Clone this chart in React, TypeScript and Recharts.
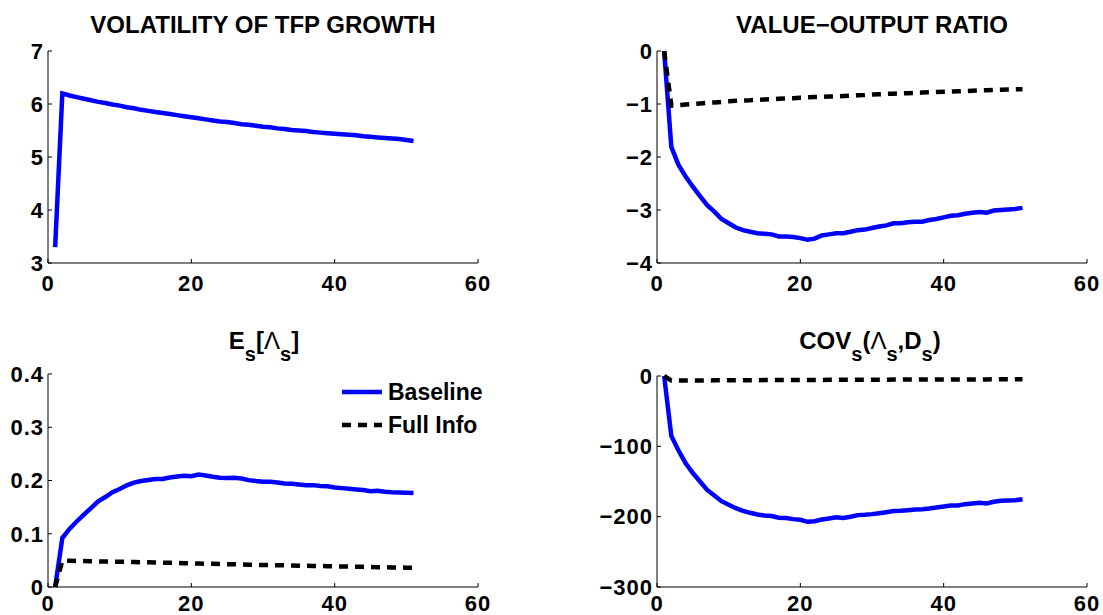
import { LineChart, Line, XAxis, YAxis, Legend } from "recharts";

const FONT = "'Liberation Sans', Arial, Helvetica, sans-serif";
const BLUE = "#0000ff";
const BLACK = "#000000";
const DASH = "9 7";

const periods = [
  1, 2, 3, 4, 5, 6, 7, 8, 9, 10, 11, 12, 13, 14, 15, 16, 17, 18, 19, 20, 21, 22, 23, 24, 25,
  26, 27, 28, 29, 30, 31, 32, 33, 34, 35, 36, 37, 38, 39, 40, 41, 42, 43, 44, 45, 46, 47, 48,
  49, 50, 51,
];

const xTicks = [0, 20, 40, 60];

// volatility of TFP growth (baseline only)
const volBaseline = [
  3.3, 6.2, 6.16, 6.13, 6.1, 6.07, 6.04, 6.02, 5.99, 5.97, 5.94, 5.92, 5.89, 5.87, 5.85, 5.83,
  5.81, 5.79, 5.77, 5.75, 5.73, 5.71, 5.69, 5.67, 5.66, 5.64, 5.62, 5.61, 5.59, 5.57, 5.56, 5.54,
  5.53, 5.51, 5.5, 5.49, 5.47, 5.46, 5.45, 5.44, 5.43, 5.42, 5.41, 5.39, 5.38, 5.37, 5.36, 5.35,
  5.34, 5.32, 5.3,
];
const volTicks = [3, 4, 5, 6, 7];

// value-output ratio
const voBaseline = [
  0, -1.81, -2.15, -2.37, -2.56, -2.74, -2.91, -3.03, -3.17, -3.25, -3.33, -3.38, -3.41, -3.44,
  -3.45, -3.46, -3.5, -3.5, -3.51, -3.53, -3.56, -3.54, -3.48, -3.46, -3.44, -3.44, -3.41, -3.38,
  -3.37, -3.34, -3.31, -3.29, -3.25, -3.25, -3.23, -3.22, -3.22, -3.19, -3.17, -3.14, -3.11,
  -3.1, -3.07, -3.05, -3.04, -3.05, -3.01, -3.0, -2.99, -2.98, -2.96,
];
const voFullInfo = [
  0, -1.03, -1.02, -1.01, -1.0, -0.99, -0.98, -0.97, -0.96, -0.95, -0.94, -0.935, -0.93, -0.92,
  -0.915, -0.91, -0.9, -0.895, -0.89, -0.88, -0.875, -0.87, -0.865, -0.86, -0.855, -0.85, -0.845,
  -0.835, -0.83, -0.82, -0.815, -0.81, -0.805, -0.8, -0.795, -0.79, -0.785, -0.78, -0.775, -0.77,
  -0.765, -0.76, -0.755, -0.75, -0.745, -0.74, -0.735, -0.73, -0.727, -0.723, -0.72,
];
const voTicks = [-4, -3, -2, -1, 0];

// E_s[Lambda_s]
const eBaseline = [
  0, 0.092, 0.109, 0.123, 0.136, 0.148, 0.161, 0.169, 0.178, 0.184, 0.191, 0.196, 0.199, 0.201,
  0.2027, 0.203, 0.2057, 0.2075, 0.209, 0.208, 0.2113, 0.2095, 0.207, 0.205, 0.2045, 0.205,
  0.2038, 0.2007, 0.199, 0.1976, 0.1976, 0.1963, 0.1945, 0.194, 0.1926, 0.191, 0.1913, 0.1895,
  0.189, 0.187, 0.1857, 0.1845, 0.1832, 0.182, 0.18, 0.1807, 0.1788, 0.178, 0.1776, 0.177,
  0.1763,
];
const eFullInfo = [
  0, 0.0494, 0.0492, 0.049, 0.0487, 0.0484, 0.0481, 0.0479, 0.0477, 0.0475, 0.0472, 0.0469,
  0.0466, 0.0463, 0.046, 0.0457, 0.0454, 0.0451, 0.0447, 0.0444, 0.0441, 0.0438, 0.0435, 0.0432,
  0.0429, 0.0426, 0.0423, 0.042, 0.0417, 0.0413, 0.0411, 0.0408, 0.0406, 0.0403, 0.0401, 0.0398,
  0.0396, 0.0393, 0.0391, 0.0388, 0.0386, 0.0383, 0.0381, 0.0378, 0.0376, 0.0373, 0.0371, 0.0368,
  0.0366, 0.0363, 0.0361,
];
const eTicks = [0, 0.1, 0.2, 0.3, 0.4];

// COV_s(Lambda_s, D_s)
const covBaseline = [
  0, -85.2, -106, -124, -138, -150, -162, -170, -178, -183, -188, -191.7, -194.5, -196.9, -198.3,
  -199, -201.6, -202, -203.5, -204.5, -207.3, -206.4, -204, -202.6, -201, -202, -200.2, -197.8,
  -197.3, -196.4, -195, -193.6, -192.1, -191.7, -190.8, -189.8, -189.3, -188.4, -187, -185.5,
  -184.1, -184.1, -182.2, -181.2, -180.3, -181.2, -178.9, -177.5, -177, -176.6, -175.1,
];
const covFullInfo = [
  0, -6.5, -6.45, -6.4, -6.35, -6.3, -6.25, -6.2, -6.15, -6.1, -6.05, -6.0, -5.95, -5.9, -5.85,
  -5.8, -5.76, -5.72, -5.68, -5.64, -5.6, -5.56, -5.52, -5.48, -5.44, -5.4, -5.36, -5.32, -5.28,
  -5.24, -5.2, -5.17, -5.14, -5.11, -5.08, -5.05, -5.02, -4.99, -4.96, -4.93, -4.9, -4.88, -4.86,
  -4.84, -4.82, -4.8, -4.78, -4.76, -4.74, -4.72, -4.7,
];
const covTicks = [-300, -200, -100, 0];

const tickStyle = {
  fill: BLACK,
  fontSize: 22,
  fontWeight: "bold",
  fontFamily: FONT,
  letterSpacing: 1,
};
const minus = (v: number) => String(v).replace("-", "\u2212");

function build(base: number[], full?: number[]) {
  return periods.map((t, i) => ({ t, base: base[i], full: full ? full[i] : undefined }));
}

function LegendBox({ payload }: any) {
  const items = payload || [];
  return (
    <svg width={170} height={64} style={{ overflow: "visible" }}>
      {items.map((entry: any, i: number) => {
        const y = 10 + i * 33;
        const dash = entry.payload?.strokeDasharray;
        return (
          <g key={entry.value}>
            <line x1={0} x2={40} y1={y} y2={y} stroke={entry.color} strokeWidth={4.5} strokeDasharray={dash} />
            <text x={46} y={y + 8} fontFamily={FONT} fontSize={23} fontWeight="bold" fill={BLACK}>
              {entry.value}
            </text>
          </g>
        );
      })}
    </svg>
  );
}

type PanelProps = {
  left: number;
  top: number;
  width: number;
  height: number;
  yWidth: number;
  marginTop: number;
  marginRight: number;
  xHeight: number;
  xMargin: number;
  data: any[];
  yDomain: [number, number];
  yTicks: number[];
  hasFull: boolean;
  legend?: boolean;
};

function Panel(p: PanelProps) {
  return (
    <div style={{ position: "absolute", left: p.left, top: p.top }}>
      <LineChart
        width={p.width}
        height={p.height}
        data={p.data}
        margin={{ top: p.marginTop, right: p.marginRight, left: 0, bottom: 0 }}
      >
        <XAxis
          dataKey="t"
          type="number"
          domain={[0, 60]}
          ticks={xTicks}
          interval={0}
          height={p.xHeight}
          stroke={BLACK}
          tickSize={-4}
          tickMargin={p.xMargin}
          tick={tickStyle}
        />
        <YAxis
          type="number"
          domain={p.yDomain}
          ticks={p.yTicks}
          interval={0}
          width={p.yWidth}
          stroke={BLACK}
          tickSize={-4}
          tickMargin={8}
          tick={tickStyle}
          tickFormatter={minus}
        />
        <Line
          dataKey="base"
          name="Baseline"
          type="linear"
          stroke={BLUE}
          strokeWidth={4.5}
          dot={false}
          activeDot={false}
          isAnimationActive={false}
        />
        {p.hasFull && (
          <Line
            dataKey="full"
            name="Full Info"
            type="linear"
            stroke={BLACK}
            strokeWidth={4.5}
            strokeDasharray={DASH}
            dot={false}
            activeDot={false}
            isAnimationActive={false}
          />
        )}
        {p.legend && (
          <Legend
            layout="vertical"
            align="center"
            verticalAlign="middle"
            content={LegendBox}
            wrapperStyle={{ left: 342, top: 75, width: 170, height: 64 }}
          />
        )}
      </LineChart>
    </div>
  );
}

export default function App() {
  const titleStyle = { fontFamily: FONT, fontWeight: "bold" as const, fill: BLACK };
  return (
    <div
      style={{
        position: "absolute",
        left: 0,
        top: 0,
        width: 1103,
        height: 615,
        overflow: "hidden",
        background: "#fff",
      }}
    >
      <Panel
        left={0}
        top={0}
        width={551}
        height={307}
        yWidth={48}
        marginTop={51}
        marginRight={73}
        xHeight={44}
        xMargin={16}
        data={build(volBaseline)}
        yDomain={[3, 7]}
        yTicks={volTicks}
        hasFull={false}
      />
      <Panel
        left={560}
        top={0}
        width={543}
        height={307}
        yWidth={97}
        marginTop={51}
        marginRight={16}
        xHeight={44}
        xMargin={16}
        data={build(voBaseline, voFullInfo)}
        yDomain={[-4, 0]}
        yTicks={voTicks}
        hasFull
      />
      <Panel
        left={0}
        top={307}
        width={551}
        height={308}
        yWidth={48}
        marginTop={67}
        marginRight={73}
        xHeight={28}
        xMargin={12}
        data={build(eBaseline, eFullInfo)}
        yDomain={[0, 0.4]}
        yTicks={eTicks}
        hasFull
        legend
      />
      <Panel
        left={560}
        top={307}
        width={543}
        height={308}
        yWidth={97}
        marginTop={69}
        marginRight={16}
        xHeight={28}
        xMargin={12}
        data={build(covBaseline, covFullInfo)}
        yDomain={[-300, 0]}
        yTicks={covTicks}
        hasFull
      />
      <svg
        width={1103}
        height={615}
        style={{ position: "absolute", left: 0, top: 0, pointerEvents: "none" }}
      >
        <text x={263} y={33} textAnchor="middle" fontSize={24} {...titleStyle}>
          VOLATILITY OF TFP GROWTH
        </text>
        <text x={872} y={33} textAnchor="middle" fontSize={24} {...titleStyle}>
          VALUE{"\u2212"}OUTPUT RATIO
        </text>
        <text x={264} y={349} textAnchor="middle" fontSize={24} {...titleStyle}>
          E
          <tspan dy={12} fontSize={20}>s</tspan>
          <tspan dy={-12}>[</tspan>
          <tspan fontWeight="normal">{"\u039B"}</tspan>
          <tspan dy={12} fontSize={20}>s</tspan>
          <tspan dy={-12}>]</tspan>
        </text>
        <text x={870} y={349} textAnchor="middle" fontSize={24} {...titleStyle}>
          COV
          <tspan dy={12} fontSize={20}>s</tspan>
          <tspan dy={-12}>(</tspan>
          <tspan fontWeight="normal">{"\u039B"}</tspan>
          <tspan dy={12} fontSize={20}>s</tspan>
          <tspan dy={-12}>,D</tspan>
          <tspan dy={12} fontSize={20}>s</tspan>
          <tspan dy={-12}>)</tspan>
        </text>
      </svg>
    </div>
  );
}
